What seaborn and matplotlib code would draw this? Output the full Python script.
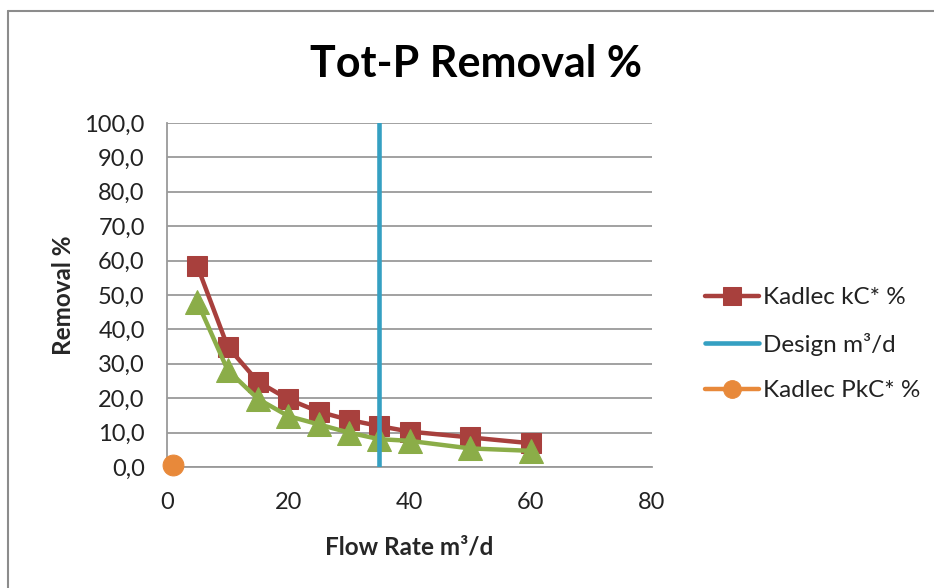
import matplotlib
matplotlib.use("Agg")
import matplotlib.pyplot as plt
from matplotlib.lines import Line2D
import pandas as pd
import seaborn as sns

# Flow rates (m³/d) and removal efficiencies (%)
flow_rate = [5, 10, 15, 20, 25, 30, 35, 40, 50, 60]
kadlec_kc = [58.4, 35.0, 24.8, 19.7, 16.1, 13.7, 11.9, 10.3, 8.6, 6.9]
kadlec_pkc_curve = [48.0, 28.2, 19.8, 14.8, 12.4, 10.0, 8.1, 7.6, 5.4, 4.7]
design_flow = [35, 35]
design_span = [0, 100]
pkc_point_x = [1]
pkc_point_y = [0.5]

x_ticks = [0, 20, 40, 60, 80]
y_ticks = [0, 10, 20, 30, 40, 50, 60, 70, 80, 90, 100]
y_tick_labels = ["0,0", "10,0", "20,0", "30,0", "40,0", "50,0",
                 "60,0", "70,0", "80,0", "90,0", "100,0"]

RED = "#A8403D"
GREEN = "#8BAD48"
BLUE = "#35A0C2"
ORANGE = "#E8893A"
GRID = "#9A9A9A"

sns.set_theme(style="white")
plt.rcParams["font.family"] = ["Lato", "DejaVu Sans"]

fig = plt.figure(figsize=(9.34, 5.88), dpi=100)
ax = fig.add_axes([167 / 934, 1 - 467 / 588, (652 - 167) / 934, (467 - 123) / 588])

df_kc = pd.DataFrame({"flow": flow_rate, "removal": kadlec_kc})
df_pkc = pd.DataFrame({"flow": flow_rate, "removal": kadlec_pkc_curve})
df_design = pd.DataFrame({"flow": design_flow, "removal": design_span})
df_point = pd.DataFrame({"flow": pkc_point_x, "removal": pkc_point_y})

sns.lineplot(data=df_pkc, x="flow", y="removal", ax=ax, color=GREEN, lw=3.2,
             marker="^", markersize=17, markeredgecolor=GREEN,
             estimator=None, label="_nolegend_", zorder=3)
sns.lineplot(data=df_kc, x="flow", y="removal", ax=ax, color=RED, lw=3.2,
             marker="s", markersize=15, markeredgecolor=RED,
             estimator=None, label="Kadlec kC* %", zorder=2)
sns.lineplot(data=df_design, x="flow", y="removal", ax=ax, color=BLUE, lw=3.3,
             estimator=None, sort=False, label="Design m³/d", zorder=4)
sns.lineplot(data=df_point, x="flow", y="removal", ax=ax, color=ORANGE, lw=3.2,
             marker="o", markersize=15, markeredgecolor=ORANGE,
             estimator=None, label="Kadlec PkC* %", zorder=5, clip_on=False)

ax.set_xlim(0, 80)
ax.set_ylim(0, 100)
ax.set_xticks(x_ticks)
ax.set_yticks(y_ticks)
ax.set_yticklabels(y_tick_labels)
ax.tick_params(axis="both", labelsize=17, labelcolor="#222222", length=6,
               width=1.3, direction="out", color=GRID)
ax.tick_params(axis="x", pad=12)
ax.tick_params(axis="y", pad=10)

ax.grid(axis="y", color=GRID, lw=1.3)
ax.set_axisbelow(True)
for side in ["top", "right"]:
    ax.spines[side].set_visible(False)
for side in ["left", "bottom"]:
    ax.spines[side].set_color(GRID)
    ax.spines[side].set_linewidth(1.3)

ax.set_xlabel("Flow Rate m³/d", fontsize=17.5, fontweight="bold", labelpad=16)
ax.set_ylabel("Removal %", fontsize=17.5, fontweight="bold", labelpad=7)

fig.text(0.51, 0.892, "Tot-P Removal %", ha="center", va="center",
         fontsize=31, fontweight="bold", color="black")

handles, labels = ax.get_legend_handles_labels()
leg = ax.legend(handles, labels, loc="center left", bbox_to_anchor=(1.065, 0.357),
                frameon=False, fontsize=17.5, handlelength=2.2, handletextpad=0.15,
                labelspacing=1.0, markerscale=0.85)
for t in leg.get_texts():
    t.set_color("#222222")

# chart frame edges
fig.add_artist(Line2D([8 / 934, 1], [1 - 10.5 / 588, 1 - 10.5 / 588],
                      color="#8C8C8C", lw=1.5, transform=fig.transFigure))
fig.add_artist(Line2D([8 / 934, 8 / 934], [0, 1 - 10.5 / 588],
                      color="#8C8C8C", lw=1.5, transform=fig.transFigure))

fig.savefig("out.png", dpi=100, facecolor="white")
